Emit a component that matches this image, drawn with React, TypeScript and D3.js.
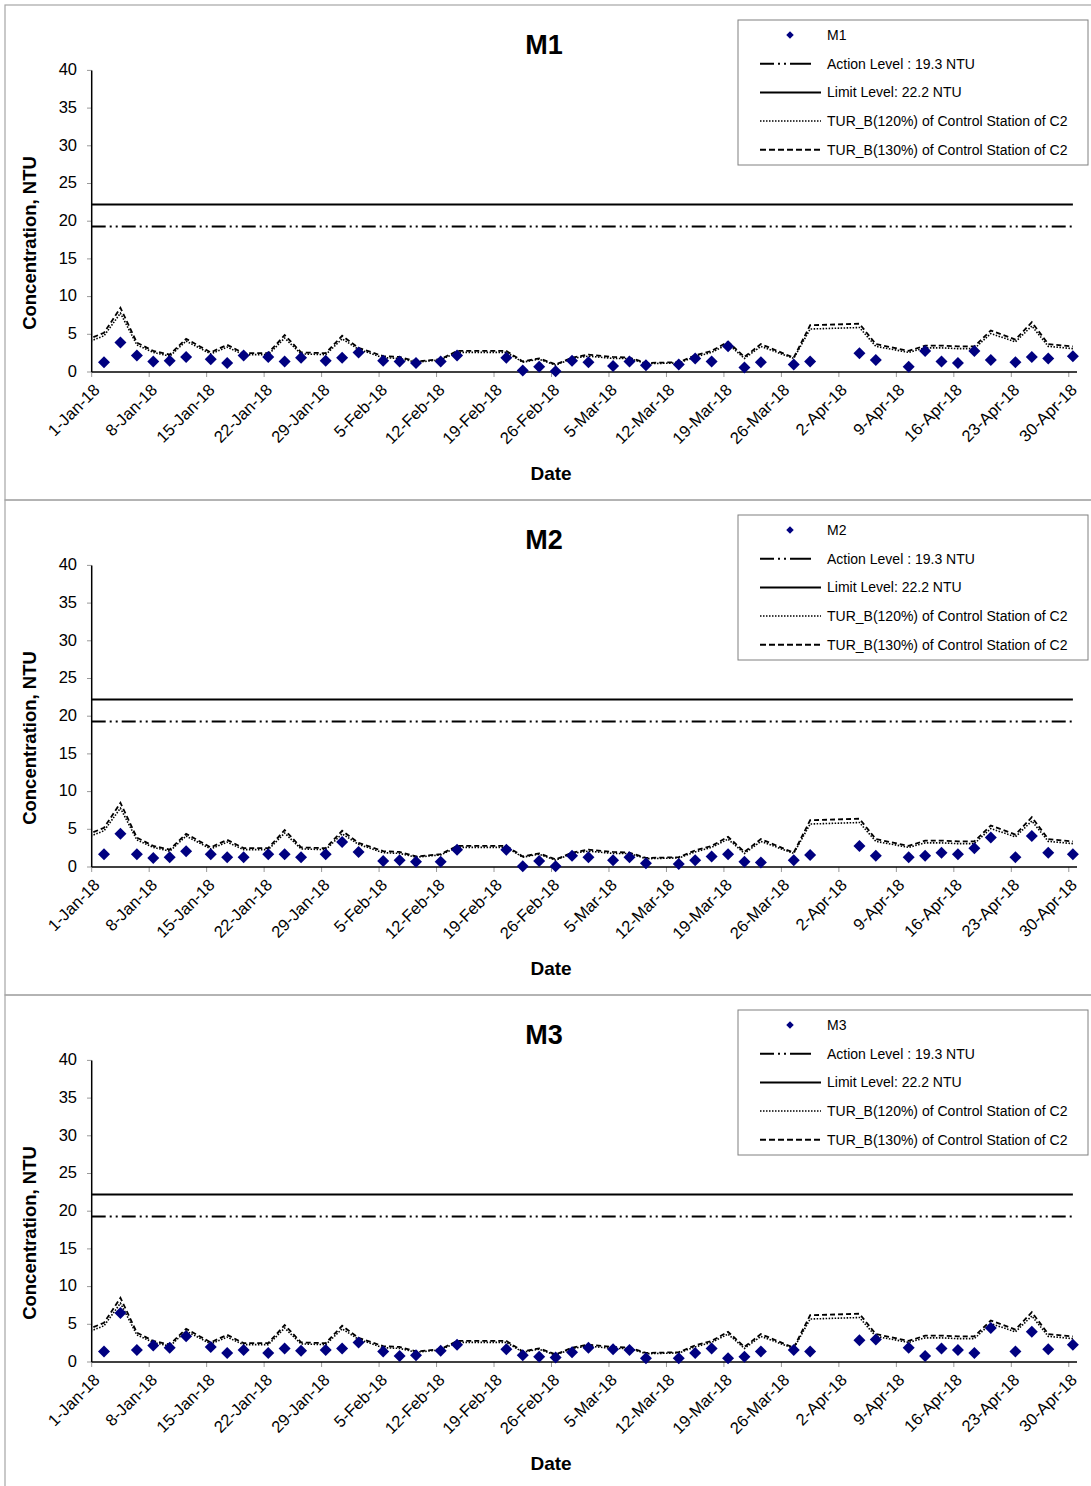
import React from "react";
import * as d3 from "d3";

// ---------- DATA ----------
const sampleDates = [
  "2018-01-02", "2018-01-04", "2018-01-06", "2018-01-08", "2018-01-10", "2018-01-12",
  "2018-01-15", "2018-01-17", "2018-01-19", "2018-01-22", "2018-01-24", "2018-01-26",
  "2018-01-29", "2018-01-31", "2018-02-02", "2018-02-05", "2018-02-07", "2018-02-09",
  "2018-02-12", "2018-02-14", "2018-02-20", "2018-02-22", "2018-02-24", "2018-02-26",
  "2018-02-28", "2018-03-02", "2018-03-05", "2018-03-07", "2018-03-09", "2018-03-13",
  "2018-03-15", "2018-03-17", "2018-03-19", "2018-03-21", "2018-03-23", "2018-03-27",
  "2018-03-29", "2018-04-04", "2018-04-06", "2018-04-10", "2018-04-12", "2018-04-14",
  "2018-04-16", "2018-04-18", "2018-04-20", "2018-04-23", "2018-04-25", "2018-04-27",
  "2018-04-30",
];

const m1Values = [
  1.3, 3.9, 2.2, 1.4, 1.5, 2.0, 1.7, 1.2, 2.2, 2.0, 1.4, 1.9, 1.5, 1.9, 2.6, 1.5, 1.4, 1.2,
  1.4, 2.2, 1.9, 0.2, 0.7, 0.1, 1.5, 1.3, 0.8, 1.4, 0.9, 1.0, 1.8, 1.4, 3.4, 0.6, 1.3, 1.0,
  1.4, 2.5, 1.6, 0.7, 2.8, 1.4, 1.2, 2.8, 1.6, 1.3, 2.0, 1.8, 2.1,
];

const m2Values = [
  1.7, 4.4, 1.7, 1.2, 1.3, 2.1, 1.7, 1.3, 1.3, 1.7, 1.7, 1.3, 1.7, 3.3, 2.0, 0.8, 0.9, 0.7,
  0.7, 2.3, 2.3, 0.1, 0.8, 0.1, 1.5, 1.3, 0.9, 1.3, 0.5, 0.4, 0.9, 1.4, 1.7, 0.7, 0.6, 0.9,
  1.6, 2.8, 1.5, 1.3, 1.5, 1.9, 1.7, 2.5, 3.9, 1.3, 4.1, 1.9, 1.7,
];

const m3Values = [
  1.4, 6.5, 1.6, 2.2, 1.9, 3.4, 2.0, 1.2, 1.6, 1.2, 1.8, 1.5, 1.6, 1.8, 2.6, 1.4, 0.8, 0.9,
  1.5, 2.3, 1.7, 0.9, 0.7, 0.6, 1.3, 1.9, 1.7, 1.6, 0.5, 0.5, 1.2, 1.8, 0.5, 0.7, 1.4, 1.6,
  1.4, 2.9, 3.0, 1.9, 0.8, 1.8, 1.6, 1.2, 4.5, 1.4, 4.0, 1.7, 2.3,
];

// Control station C2 dates (includes a preceding sample before the axis start)
const controlDates = ["2017-12-29", ...sampleDates];

const tur120Values = [
  3.1, 4.8, 7.8, 3.6, 2.6, 2.1, 4.1, 2.4, 3.3, 2.3, 2.3, 4.5, 2.4, 2.3, 4.4, 3.0, 1.9, 1.8,
  1.3, 1.6, 2.6, 2.6, 1.3, 1.7, 0.9, 1.8, 2.1, 1.8, 1.8, 1.1, 1.2, 2.0, 2.6, 3.7, 1.8, 3.4,
  1.8, 5.7, 5.9, 3.4, 2.6, 3.2, 3.2, 3.1, 3.1, 5.1, 4.0, 6.1, 3.4, 3.1,
];

const tur130Values = [
  3.4, 5.2, 8.5, 3.9, 2.8, 2.3, 4.4, 2.6, 3.6, 2.5, 2.5, 4.9, 2.6, 2.5, 4.8, 3.2, 2.1, 2.0,
  1.4, 1.7, 2.8, 2.8, 1.4, 1.8, 1.0, 1.9, 2.3, 2.0, 1.9, 1.2, 1.3, 2.2, 2.8, 4.0, 2.0, 3.7,
  1.9, 6.2, 6.4, 3.7, 2.8, 3.5, 3.5, 3.4, 3.4, 5.5, 4.3, 6.6, 3.7, 3.4,
];

const actionLevel = 19.3;
const limitLevel = 22.2;

const tickDates = [
  "2018-01-01", "2018-01-08", "2018-01-15", "2018-01-22", "2018-01-29", "2018-02-05",
  "2018-02-12", "2018-02-19", "2018-02-26", "2018-03-05", "2018-03-12", "2018-03-19",
  "2018-03-26", "2018-04-02", "2018-04-09", "2018-04-16", "2018-04-23", "2018-04-30",
];
const yTicks = [0, 5, 10, 15, 20, 25, 30, 35, 40];

const stations = ["M1", "M2", "M3"];
const stationValues = [m1Values, m2Values, m3Values];

const legendLabels = [
  "Action Level : 19.3 NTU",
  "Limit Level: 22.2 NTU",
  "TUR_B(120%) of Control Station of C2",
  "TUR_B(130%) of Control Station of C2",
];

// ---------- LAYOUT ----------
const W = 1091;
const H = 1486;
const PANEL_H = 495;
const FONT = "'Liberation Sans', Arial, Helvetica, sans-serif";
const NAVY = "#000080";

const parse = d3.timeParse("%Y-%m-%d");
const atNoon = (s: string) => d3.timeHour.offset(parse(s) as Date, 12);

const x = d3
  .scaleTime()
  .domain([parse("2018-01-01") as Date, parse("2018-05-01") as Date])
  .range([91.7, 1077]);

const y = d3.scaleLinear().domain([0, 40]).range([372, 70.4]);

const fmtTick = (s: string) => {
  const d = parse(s) as Date;
  return `${d.getDate()}-${d3.timeFormat("%b")(d)}-${d3.timeFormat("%y")(d)}`;
};

const ACTION_DASH = "14,4,2,4,2,4";
const DOT_DASH = "1.5,1.5";
const DASH_DASH = "5,3";

function Panel({ idx }: { idx: number }) {
  const name = stations[idx];
  const vals = stationValues[idx];
  const pts = sampleDates.map((s, i) => ({ d: atNoon(s), v: vals[i] }));
  const line = d3
    .line<{ d: Date; v: number }>()
    .x((p) => x(p.d))
    .y((p) => y(p.v));
  const c120 = controlDates.map((s, i) => ({ d: atNoon(s), v: tur120Values[i] }));
  const c130 = controlDates.map((s, i) => ({ d: atNoon(s), v: tur130Values[i] }));
  const levelStart = parse("2018-01-01") as Date;
  const levelEnd = atNoon(sampleDates[sampleDates.length - 1]);
  const diamond = d3.symbol(d3.symbolSquare, 72)() as string;
  const diamondSmall = d3.symbol(d3.symbolSquare, 28)() as string;
  const [x0, x1] = x.range();
  const clipId = `clip-${idx}`;

  const legendX = 738;
  const legendY = 20;
  const rowY = (i: number) => legendY + 15 + i * 28.7;

  return (
    <g transform={`translate(0, ${idx * PANEL_H})`}>
      <defs>
        <clipPath id={clipId}>
          <rect x={x0} y={y(40) - 5} width={x1 - x0} height={y(0) - y(40) + 5} />
        </clipPath>
      </defs>
      {/* title */}
      <text x={544} y={54} textAnchor="middle" fontFamily={FONT} fontWeight="bold" fontSize={27}>
        {name}
      </text>
      {/* y-axis ticks */}
      {yTicks.map((t) => (
        <g key={t}>
          <line x1={87} x2={91.7} y1={y(t)} y2={y(t)} stroke="#999" strokeWidth={1} />
          <text x={77} y={y(t) - 1} dy="0.35em" textAnchor="end" fontFamily={FONT} fontSize={16.5}>
            {t}
          </text>
        </g>
      ))}
      {/* x ticks */}
      {tickDates.map((s) => {
        const tx = x(parse(s) as Date);
        return (
          <g key={s}>
            <line x1={tx} x2={tx} y1={y(0)} y2={y(0) + 5} stroke="#999" strokeWidth={1} />
            <text
              transform={`translate(${tx + 5}, ${y(0) + 15}) rotate(-45)`}
              textAnchor="end"
              fontFamily={FONT}
              fontSize={16.5}
              dy="0.35em"
            >
              {fmtTick(s)}
            </text>
          </g>
        );
      })}
      {/* axes */}
      <line x1={x0} x2={x0} y1={y(40)} y2={y(0)} stroke="#000" strokeWidth={1.5} />
      <line x1={x0} x2={x1} y1={y(0)} y2={y(0)} stroke="#000" strokeWidth={1.5} />
      {/* level lines */}
      <line
        x1={x(levelStart)}
        x2={x(levelEnd)}
        y1={y(limitLevel)}
        y2={y(limitLevel)}
        stroke="#000"
        strokeWidth={2}
      />
      <line
        x1={x(levelStart)}
        x2={x(levelEnd)}
        y1={y(actionLevel)}
        y2={y(actionLevel)}
        stroke="#000"
        strokeWidth={2}
        strokeDasharray={ACTION_DASH}
      />
      {/* control station lines */}
      <g clipPath={`url(#${clipId})`}>
        <path d={line(c120) as string} fill="none" stroke="#000" strokeWidth={1.6} strokeDasharray={DOT_DASH} />
        <path d={line(c130) as string} fill="none" stroke="#000" strokeWidth={1.8} strokeDasharray={DASH_DASH} />
      </g>
      {/* station points */}
      {pts.map((p, i) => (
        <path
          key={i}
          d={diamond}
          transform={`translate(${x(p.d)}, ${y(p.v)}) rotate(45)`}
          fill={NAVY}
        />
      ))}
      {/* axis titles */}
      <text
        transform={`translate(36, 243) rotate(-90)`}
        textAnchor="middle"
        fontFamily={FONT}
        fontWeight="bold"
        fontSize={18.5}
      >
        Concentration, NTU
      </text>
      <text x={551} y={480} textAnchor="middle" fontFamily={FONT} fontWeight="bold" fontSize={19}>
        Date
      </text>
      {/* legend */}
      <rect x={legendX} y={legendY} width={350} height={145} fill="#fff" stroke="#808080" strokeWidth={1} />
      <path d={diamondSmall} transform={`translate(790, ${rowY(0)}) rotate(45)`} fill={NAVY} />
      <text x={827} y={rowY(0)} dy="0.35em" fontFamily={FONT} fontSize={14}>
        {name}
      </text>
      <line x1={760} x2={821} y1={rowY(1)} y2={rowY(1)} stroke="#000" strokeWidth={2} strokeDasharray="14,4,2,4,2,4,21" />
      <line x1={760} x2={821} y1={rowY(2)} y2={rowY(2)} stroke="#000" strokeWidth={2} />
      <line x1={760} x2={821} y1={rowY(3)} y2={rowY(3)} stroke="#000" strokeWidth={1.5} strokeDasharray={DOT_DASH} />
      <line x1={760} x2={821} y1={rowY(4)} y2={rowY(4)} stroke="#000" strokeWidth={2} strokeDasharray="6,3" />
      {legendLabels.map((l, i) => (
        <text key={l} x={827} y={rowY(i + 1)} dy="0.35em" fontFamily={FONT} fontSize={14}>
          {l}
        </text>
      ))}
    </g>
  );
}

export default function App() {
  return (
    <div style={{ position: "absolute", left: 0, top: 0 }}>
      <svg width={W} height={H} style={{ display: "block", background: "#fff" }}>
        <rect x={0} y={0} width={W} height={H} fill="#fff" />
        {/* outer frames */}
        {stations.map((s, i) => (
          <rect
            key={s}
            x={5}
            y={5 + i * PANEL_H}
            width={W + 10}
            height={PANEL_H}
            fill="none"
            stroke="#a6a6a6"
            strokeWidth={1.2}
          />
        ))}
        {stations.map((s, i) => (
          <Panel key={s} idx={i} />
        ))}
      </svg>
    </div>
  );
}
